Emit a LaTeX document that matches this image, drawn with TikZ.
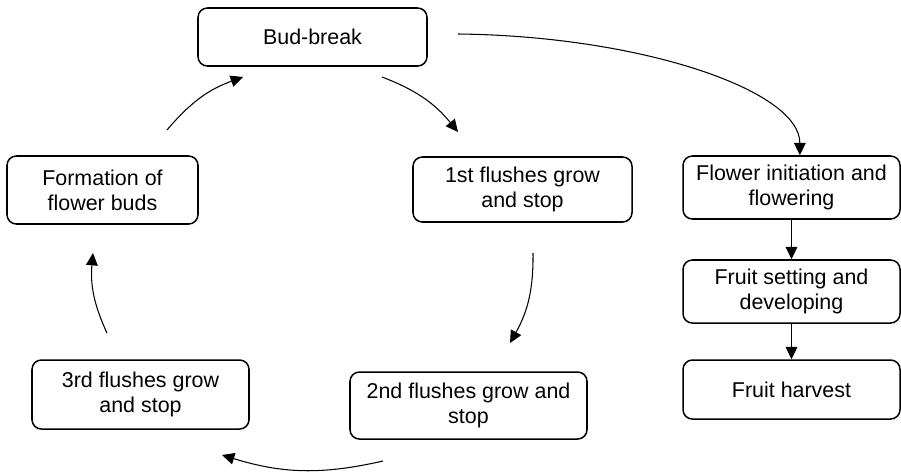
\documentclass[tikz,border=0pt]{standalone}
\usepackage{fontspec}
\setmainfont{Liberation Sans}
\usepackage{tikz}
\usetikzlibrary{arrows.meta,positioning,calc}
\tikzset{
  stagebox/.style={draw=black, fill=white, rounded corners=8pt, line width=1.3pt,
                   align=center, inner sep=2pt, font=\fontsize{18.3}{21.5}\selectfont,
                   text=black},
  arrow/.style={-{Triangle[length=3.7mm,width=3.5mm]}, line width=0.9pt, draw=black}
}
\begin{document}
\begin{tikzpicture}[x=1cm,y=1cm]
        \useasboundingbox (0,0) rectangle (27.03,-14.13);
        \node[stagebox,minimum width=6.87cm,minimum height=1.74cm] (bud) at (9.375,-1.11)
          {Bud-break};
        \node[stagebox,minimum width=5.73cm,minimum height=2.04cm] (form) at (3.075,-5.70)
          {Formation of\\flower buds};
        \node[stagebox,minimum width=6.57cm,minimum height=1.95cm] (first) at (15.675,-5.685)
          {1st flushes grow\\and stop};
        \node[stagebox,minimum width=7.11cm,minimum height=2.01cm] (second) at (14.055,-12.165)
          {2nd flushes grow and\\stop};
        \node[stagebox,minimum width=6.51cm,minimum height=2.07cm] (third) at (4.215,-11.835)
          {3rd flushes grow\\and stop};

        \node[stagebox,minimum width=6.51cm,minimum height=1.89cm] (flower) at (23.745,-5.625)
          {Flower initiation and\\flowering};
        \node[stagebox,minimum width=6.51cm,minimum height=1.89cm] (fruitset) at (23.745,-8.745)
          {Fruit setting and\\developing};
        \node[stagebox,minimum width=6.51cm,minimum height=1.77cm] (harvest) at (23.745,-11.685)
          {Fruit harvest};

        \coordinate (c1a) at (5.01,-3.90);   \coordinate (c1b) at (7.29,-2.31);
        \coordinate (c2a) at (11.46,-2.31);  \coordinate (c2b) at (13.74,-3.96);
        \coordinate (c3a) at (15.99,-7.59);  \coordinate (c3b) at (15.30,-10.29);
        \coordinate (c4a) at (11.49,-13.83); \coordinate (c4b) at (6.66,-13.65);
        \coordinate (c5a) at (3.21,-9.99);   \coordinate (c5b) at (2.79,-7.59);
        \coordinate (longa) at (13.74,-1.02);

        \draw[arrow] (c1a) to[bend left=15] (c1b);
        \draw[arrow] (c2a) to[bend left=15] (c2b);
        \draw[arrow] (c3a) to[bend left=15] (c3b);
        \draw[arrow] (c4a) to[bend left=15] (c4b);
        \draw[arrow] (c5a) to[bend left=15] (c5b);

        \draw[arrow] (longa) .. controls (19.2,-1.08) and (24.0,-2.7) .. ($(flower.north)+(0.25,0)$);
        \draw[arrow] (flower) -- (fruitset);
        \draw[arrow] (fruitset) -- (harvest);
      \end{tikzpicture}
\end{document}
